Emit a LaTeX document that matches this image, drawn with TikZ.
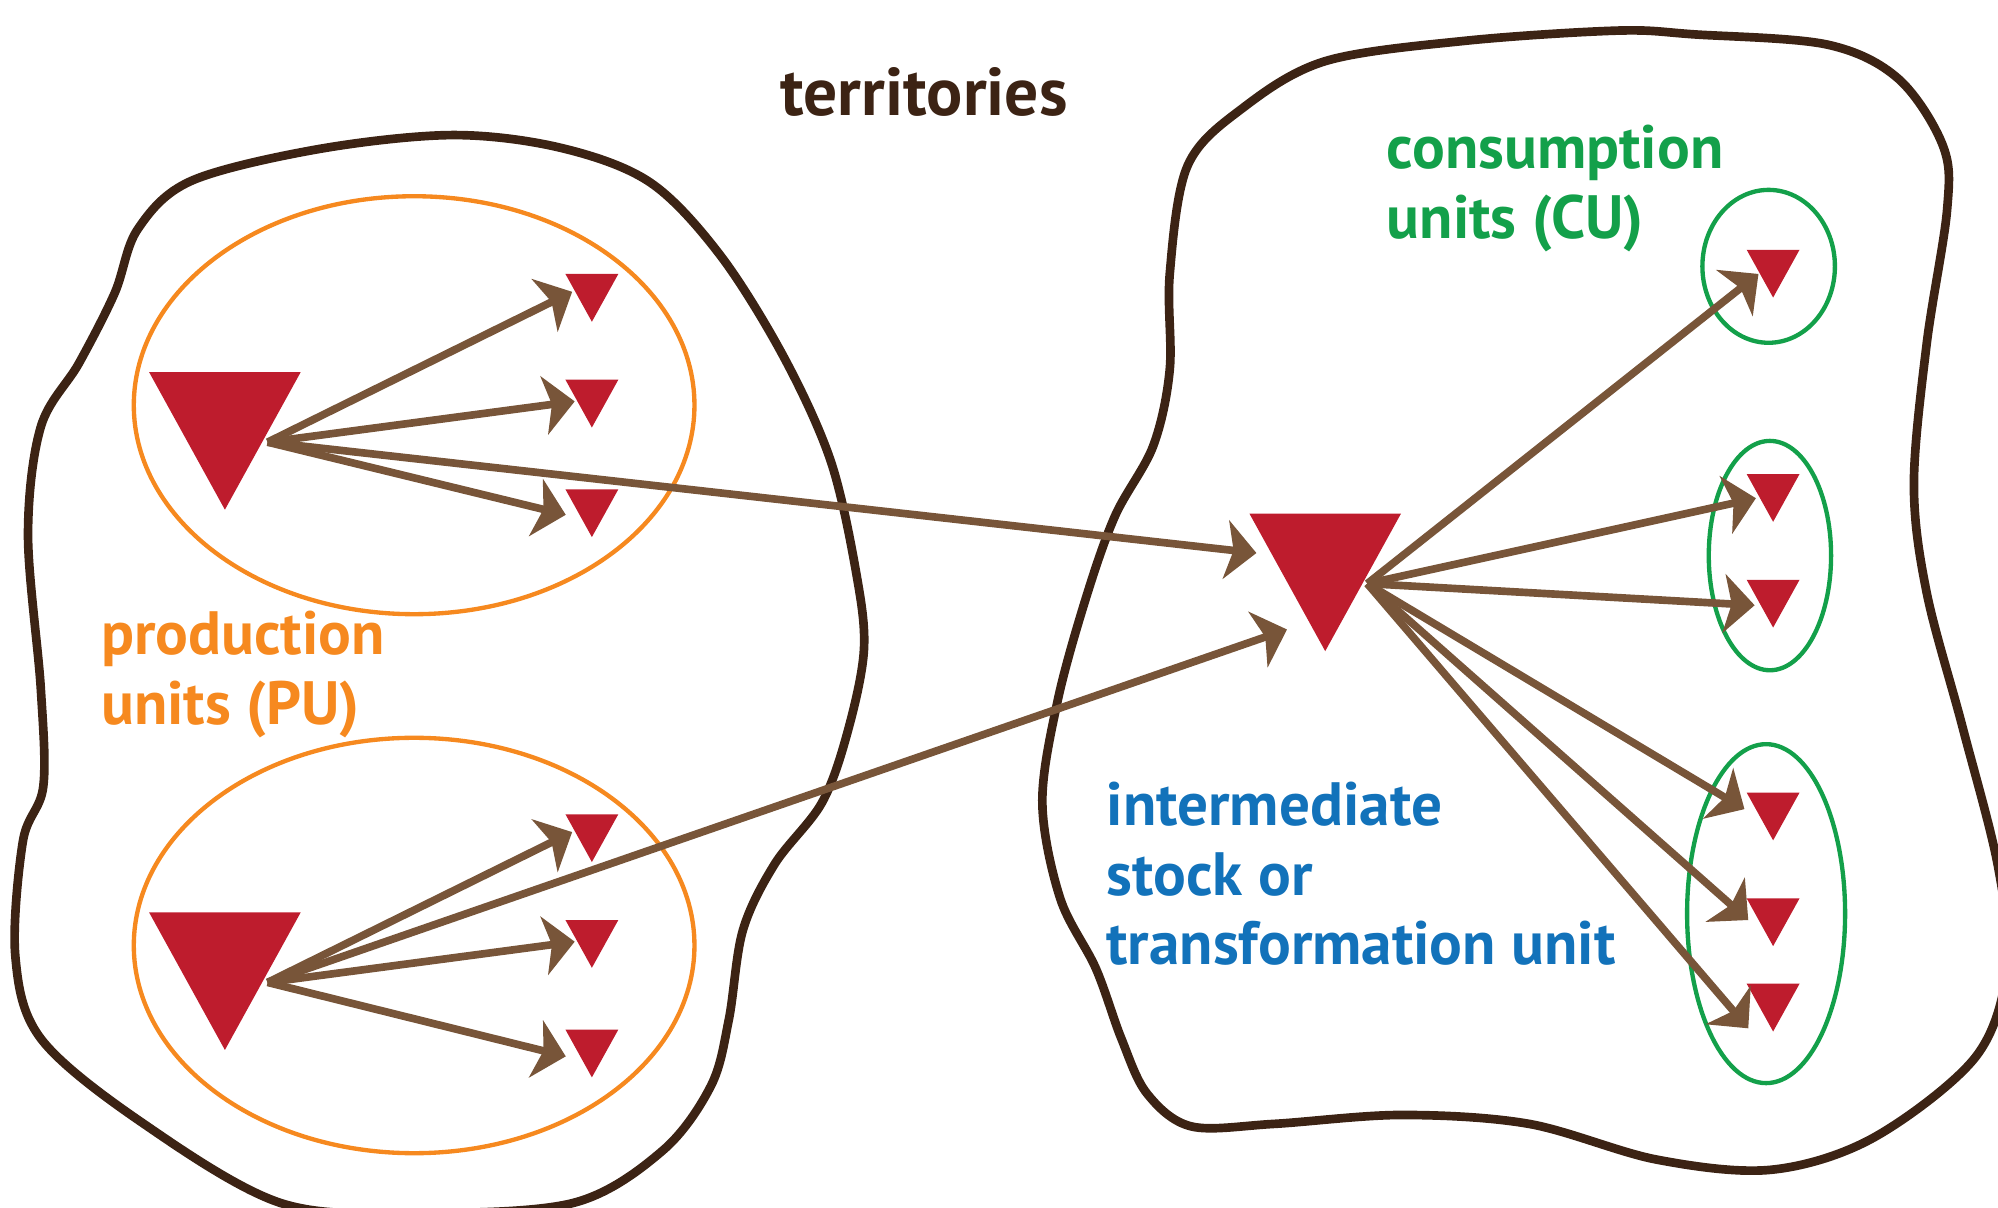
\documentclass[tikz,border=0pt]{standalone}
\usepackage{fontspec}
\setmainfont{PT Sans}
\usetikzlibrary{arrows.meta}
\definecolor{outl}{HTML}{3C2314}
\definecolor{org}{HTML}{F6891F}
\definecolor{grn}{HTML}{13A04A}
\definecolor{blu}{HTML}{1272BA}
\definecolor{trired}{HTML}{BE1C2D}
\definecolor{brn}{HTML}{785539}
\begin{document}
\begin{tikzpicture}[x=0.5pt,y=-0.5pt,
  blob/.style={draw=outl,line width=3.4pt},
  pu/.style={draw=org,line width=1.7pt},
  cu/.style={draw=grn,line width=1.7pt},
  flow/.style={draw=brn,line width=3pt,-{Stealth[length=12pt,width=23pt,inset=3pt]}},
  lbl/.style={anchor=base west,inner sep=0pt,font=\fontsize{24}{27}\selectfont\bfseries},
  pics/smalltri/.style={code={\fill[trired] (-20.75,0) -- (20.75,0) -- (0,37.5) -- cycle;}},
  pics/bigtri/.style={code={\fill[trired] (-59.5,0) -- (59.5,0) -- (0,108) -- cycle;}}]
\useasboundingbox (0,0) rectangle (1568,948);
\clip (0,0) rectangle (1568,948);
% territories
\draw[blob] plot[smooth cycle, tension=0.55] coordinates {
 (150,142) (250,117) (355,106) (440,116) (510,143) (565,200) (615,280) (652,362)
 (672,450) (678,510) (665,575) (645,630) (608,678) (583,730) (572,800) (558,852)
 (520,903) (450,944) (330,952) (220,944) (110,880) (32,815) (12,750) (18,660)
 (34,617) (32,540) (22,420) (32,335) (62,285) (90,230) (108,180)};
\draw[blob] plot[smooth cycle, tension=0.55] coordinates {
 (1040,48) (1150,32) (1270,24) (1330,27) (1434,35) (1490,62) (1525,115) (1528,165)
 (1512,270) (1502,380) (1512,465) (1540,570) (1568,680) (1575,760) (1550,830)
 (1470,893) (1390,918) (1300,910) (1200,882) (1100,875) (1000,882) (935,884)
 (900,858) (880,815) (860,760) (832,705) (818,630) (830,550) (852,470) (875,405)
 (905,350) (918,290) (918,215) (932,130) (975,85)};
% unit groups
\draw[pu] (325,318) ellipse [x radius=220, y radius=164];
\draw[pu] (325,742) ellipse [x radius=220, y radius=163];
\draw[cu] (1388,209) ellipse [x radius=52, y radius=60];
\draw[cu] (1389,436) ellipse [x radius=48, y radius=90];
\draw[cu] (1386,717) ellipse [x radius=62, y radius=133];
% triangles
\pic at (176.5,292) {bigtri};
\pic at (176.5,716) {bigtri};
\pic at (1040,403) {bigtri};
\foreach \y in {215,298,384,639,722,808} \pic at (464.5,\y) {smalltri};
\foreach \y in {196,372,455,622,705,772} \pic at (1391.5,\y) {smalltri};
% arrow ends
\coordinate (p1) at (210,347);
\coordinate (p1a) at (449,229);
\coordinate (p1b) at (451,315);
\coordinate (p1c) at (444,404);
\coordinate (p1d) at (986,434);
\coordinate (p2) at (210,771);
\coordinate (p2a) at (449,653);
\coordinate (p2b) at (451,739);
\coordinate (p2c) at (444,829);
\coordinate (p2d) at (1010,494);
\coordinate (im) at (1073,458);
\coordinate (c1) at (1380,215);
\coordinate (c2) at (1378,391);
\coordinate (c3) at (1377,475);
\coordinate (c4) at (1369,635);
\coordinate (c5) at (1372,722);
\coordinate (c6) at (1372,807);
\foreach \t in {p1a,p1b,p1c,p1d} \draw[flow] (p1) -- (\t);
\foreach \t in {p2a,p2b,p2c,p2d} \draw[flow] (p2) -- (\t);
\foreach \t in {c1,c2,c3,c4,c5,c6} \draw[flow] (im) -- (\t);
% labels
\node[lbl,text=outl,font=\fontsize{26.5}{30}\selectfont\bfseries] (terr) at (612,91) {territories};
\node[lbl,text=grn] (cu1) at (1088,132) {consumption};
\node[lbl,text=grn] (cu2) at (1088,187) {units (CU)};
\node[lbl,text=org] (pu1) at (79,513.6) {production};
\node[lbl,text=org] (pu2) at (79,568.4) {units (PU)};
\node[lbl,text=blu] (im1) at (868,648) {intermediate};
\node[lbl,text=blu] (im2) at (868,703) {stock or};
\node[lbl,text=blu] (im3) at (868,757) {transformation unit};
\end{tikzpicture}
\end{document}
